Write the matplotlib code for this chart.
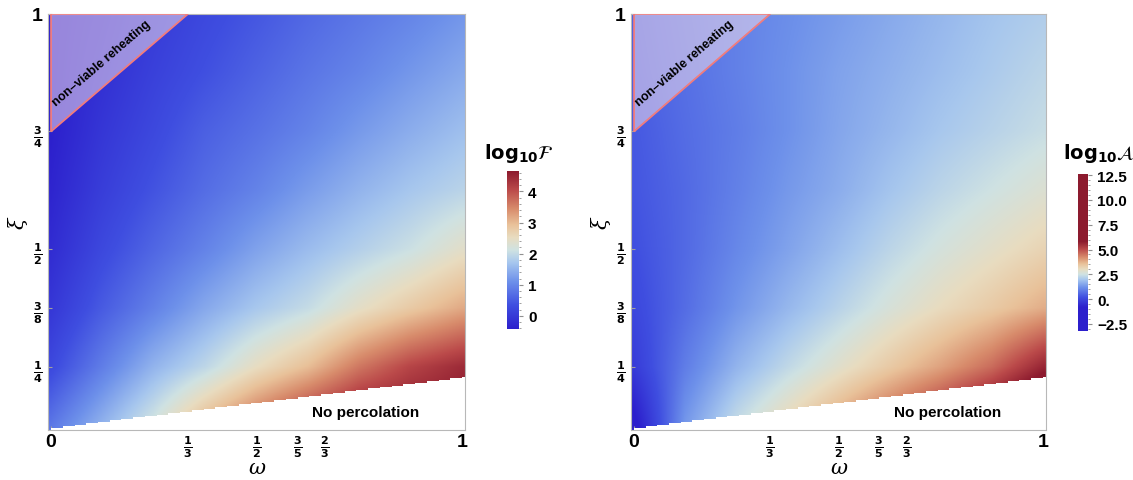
"""Percolation / reheating maps in the (omega, xi) plane."""
import numpy as np
import matplotlib
matplotlib.use('Agg')
from matplotlib import pyplot as plt
from matplotlib.colors import LinearSegmentedColormap, Normalize
from matplotlib.patches import Polygon
from matplotlib.ticker import FixedLocator, FixedFormatter, MultipleLocator

plt.rcParams['font.family'] = ['Liberation Sans', 'DejaVu Sans']
plt.rcParams['mathtext.fontset'] = 'dejavusans'
plt.rcParams['mathtext.default'] = 'bf'

# grid of sample points
omega = [0, 0.125, 0.25, 0.375, 0.5, 0.625, 0.75, 0.875, 1.0]
xi = [0.125, 0.25, 0.375, 0.5, 0.625, 0.75, 0.875, 1.0]

# log10 F (rows: xi from bottom to top)
log_F = [
    [0.81, 1.50, 2.20, 3.10, 3.80, 4.40, 4.80, 4.80, 4.80],
    [0.25, 0.89, 1.50, 1.94, 2.50, 2.96, 3.62, 4.11, 4.43],
    [-0.03, 0.49, 0.93, 1.37, 1.73, 2.01, 2.44, 2.80, 3.15],
    [-0.21, 0.25, 0.62, 0.95, 1.30, 1.59, 1.84, 2.08, 2.41],
    [-0.33, 0.08, 0.40, 0.70, 0.95, 1.24, 1.50, 1.72, 1.90],
    [-0.41, -0.04, 0.25, 0.55, 0.75, 0.96, 1.21, 1.43, 1.63],
    [-0.42, -0.15, 0.13, 0.36, 0.58, 0.79, 0.97, 1.18, 1.38],
    [-0.43, -0.23, 0.03, 0.25, 0.44, 0.64, 0.81, 0.97, 1.16],
]

# log10 A
log_A = [
    [-1.0, 1.3, 2.4, 3.2, 4.0, 4.8, 5.6, 6.5, 7.5],
    [-0.2, 0.9, 1.7, 2.3, 2.85, 3.4, 3.95, 4.6, 5.6],
    [0.05, 0.65, 1.25, 1.75, 2.2, 2.65, 3.05, 3.4, 3.8],
    [0.2, 0.6, 1.05, 1.45, 1.85, 2.25, 2.6, 2.9, 3.2],
    [0.3, 0.6, 0.95, 1.3, 1.6, 1.95, 2.25, 2.5, 2.75],
    [0.35, 0.65, 0.9, 1.2, 1.5, 1.75, 2.0, 2.2, 2.4],
    [0.45, 0.7, 0.95, 1.2, 1.45, 1.65, 1.85, 2.05, 2.25],
    [0.5, 0.75, 0.95, 1.15, 1.35, 1.55, 1.75, 1.95, 2.1],
]

# no-percolation boundary
cut_omega = [0.0, 1.0]
cut_xi = [0.12, 0.228]

# non-viable reheating triangle
tri_omega = [0.0, 0.0, 1 / 3]
tri_xi = [0.75, 1.0, 1.0]

x_ticks = [0, 1 / 3, 1 / 2, 3 / 5, 2 / 3, 1]
x_labels = ['0', r'$\frac{1}{3}$', r'$\frac{1}{2}$', r'$\frac{3}{5}$', r'$\frac{2}{3}$', '1']
y_ticks = [1 / 4, 3 / 8, 1 / 2, 3 / 4, 1]
y_labels = [r'$\frac{1}{4}$', r'$\frac{3}{8}$', r'$\frac{1}{2}$', r'$\frac{3}{4}$', '1']

# thermometer-like colours
anchor_pos = [0.0, 0.15, 0.30, 0.42, 0.50, 0.58, 0.66, 0.76, 0.88, 1.0]
anchor_col = ['#2c1fcc', '#3f4ee0', '#6d90ea', '#a6c6ee', '#cfe2e2',
              '#e8dcc0', '#e9c29a', '#d88c6c', '#bb4a4a', '#8c1a2e']


def squeezed_cmap(vmin, vmax, lo, hi):
    # colours run from lo to hi, flat outside
    p0 = (lo - vmin) / (vmax - vmin)
    p1 = (hi - vmin) / (vmax - vmin)
    nodes = [(0.0, anchor_col[0])]
    for p, c in zip(anchor_pos, anchor_col):
        nodes.append((p0 + p * (p1 - p0), c))
    nodes.append((1.0, anchor_col[-1]))
    return LinearSegmentedColormap.from_list('thermo', nodes, N=2048)


fig = plt.figure(figsize=(11.33, 4.81), dpi=100)
ax1 = fig.add_axes([0.0424, 0.104, 0.368, 0.865])
ax2 = fig.add_axes([0.557, 0.104, 0.366, 0.865])
cax1 = fig.add_axes([0.4475, 0.314, 0.0106, 0.328])
cax2 = fig.add_axes([0.9515, 0.310, 0.0088, 0.326])

panels = [
    (ax1, cax1, log_F, squeezed_cmap(-0.42, 4.65, -0.42, 4.65), -0.42, 4.65),
    (ax2, cax2, log_A, squeezed_cmap(-3.2, 12.6, -0.8, 5.8), -3.2, 12.6),
]

d_om = omega[1] - omega[0]
d_xi = xi[1] - xi[0]
steps = np.linspace(0, 1, 36)
steps_x = np.append(steps, 1.02)

for ax, cax, z, cmap, vmin, vmax in panels:
    norm = Normalize(vmin, vmax)
    im = ax.imshow(np.array(z), origin='lower', cmap=cmap, norm=norm,
                   interpolation='bilinear', aspect='auto',
                   extent=[omega[0] - d_om / 2, omega[-1] + d_om / 2,
                           xi[0] - d_xi / 2, xi[-1] + d_xi / 2])
    # jagged no-percolation region
    cut = np.interp(steps_x, cut_omega, cut_xi)
    ax.fill_between(steps_x, 0, cut, step='post', color='white', lw=0, zorder=2)
    ax.text(0.766, 0.153, 'No percolation', fontsize=11, fontweight='bold',
            ha='center', va='center', zorder=3)

    tri = Polygon(list(zip(tri_omega, tri_xi)), closed=True, facecolor='#f2dcea',
                  alpha=0.55, edgecolor='none', zorder=3)
    ax.add_patch(tri)
    ax.add_patch(Polygon(list(zip(tri_omega, tri_xi)), closed=True, fill=False,
                         edgecolor='#f27c7c', lw=1.3, zorder=4))
    ax.text(0.124, 0.896, 'non\u2013viable reheating', fontsize=9, fontweight='bold',
            rotation=40.6, rotation_mode='anchor', ha='center', va='center', zorder=5)

    ax.set_xlim(-0.0073, 1.0073)
    ax.set_ylim(0.115, 1.0)
    ax.set_xticks(x_ticks)
    ax.set_xticklabels(x_labels)
    ax.set_yticks(y_ticks)
    ax.set_yticklabels(y_labels)
    for lab in ax.get_xticklabels() + ax.get_yticklabels():
        lab.set_fontsize(14 if lab.get_text() in ('0', '1') else 11.5)
        lab.set_fontweight('bold')
    ax.tick_params(direction='in', length=3, color='#a0a0a0')
    ax.tick_params(axis='x', pad=2)
    ax.tick_params(axis='y', pad=4)
    for sp in ax.spines.values():
        sp.set_color('#b8b8b8')
        sp.set_linewidth(0.8)
    ax.set_xlabel('\u03c9', fontsize=15, family='DejaVu Serif', style='italic',
                  va='baseline')
    ax.xaxis.set_label_coords(0.5, -0.103)
    ax.set_ylabel('\u03be', fontsize=15, family='DejaVu Serif', style='italic')
    ax.yaxis.set_label_coords(-0.05, 0.5)

    cb = fig.colorbar(im, cax=cax)
    cb.outline.set_visible(False)
    cax.tick_params(which='both', direction='out', color='#909090', labelsize=11)
    cax.tick_params(which='major', length=3)
    cax.tick_params(which='minor', length=1.5)

cax1.yaxis.set_major_locator(FixedLocator([0, 1, 2, 3, 4]))
cax1.yaxis.set_minor_locator(MultipleLocator(0.2))
cax2.yaxis.set_major_locator(FixedLocator([-2.5, 0, 2.5, 5, 7.5, 10, 12.5]))
cax2.yaxis.set_major_formatter(FixedFormatter(['\u22122.5', '0.', '2.5', '5.0', '7.5', '10.0', '12.5']))
cax2.yaxis.set_minor_locator(MultipleLocator(0.5))
for cax in (cax1, cax2):
    for lab in cax.get_yticklabels():
        lab.set_fontweight('bold')

fig.text(0.458, 0.67, r'$\mathbf{log_{10}}\mathcal{F}$', fontsize=14, ha='center')
fig.text(0.970, 0.67, r'$\mathbf{log_{10}}\mathcal{A}$', fontsize=14, ha='center')

fig.savefig('out.png', dpi=100)
